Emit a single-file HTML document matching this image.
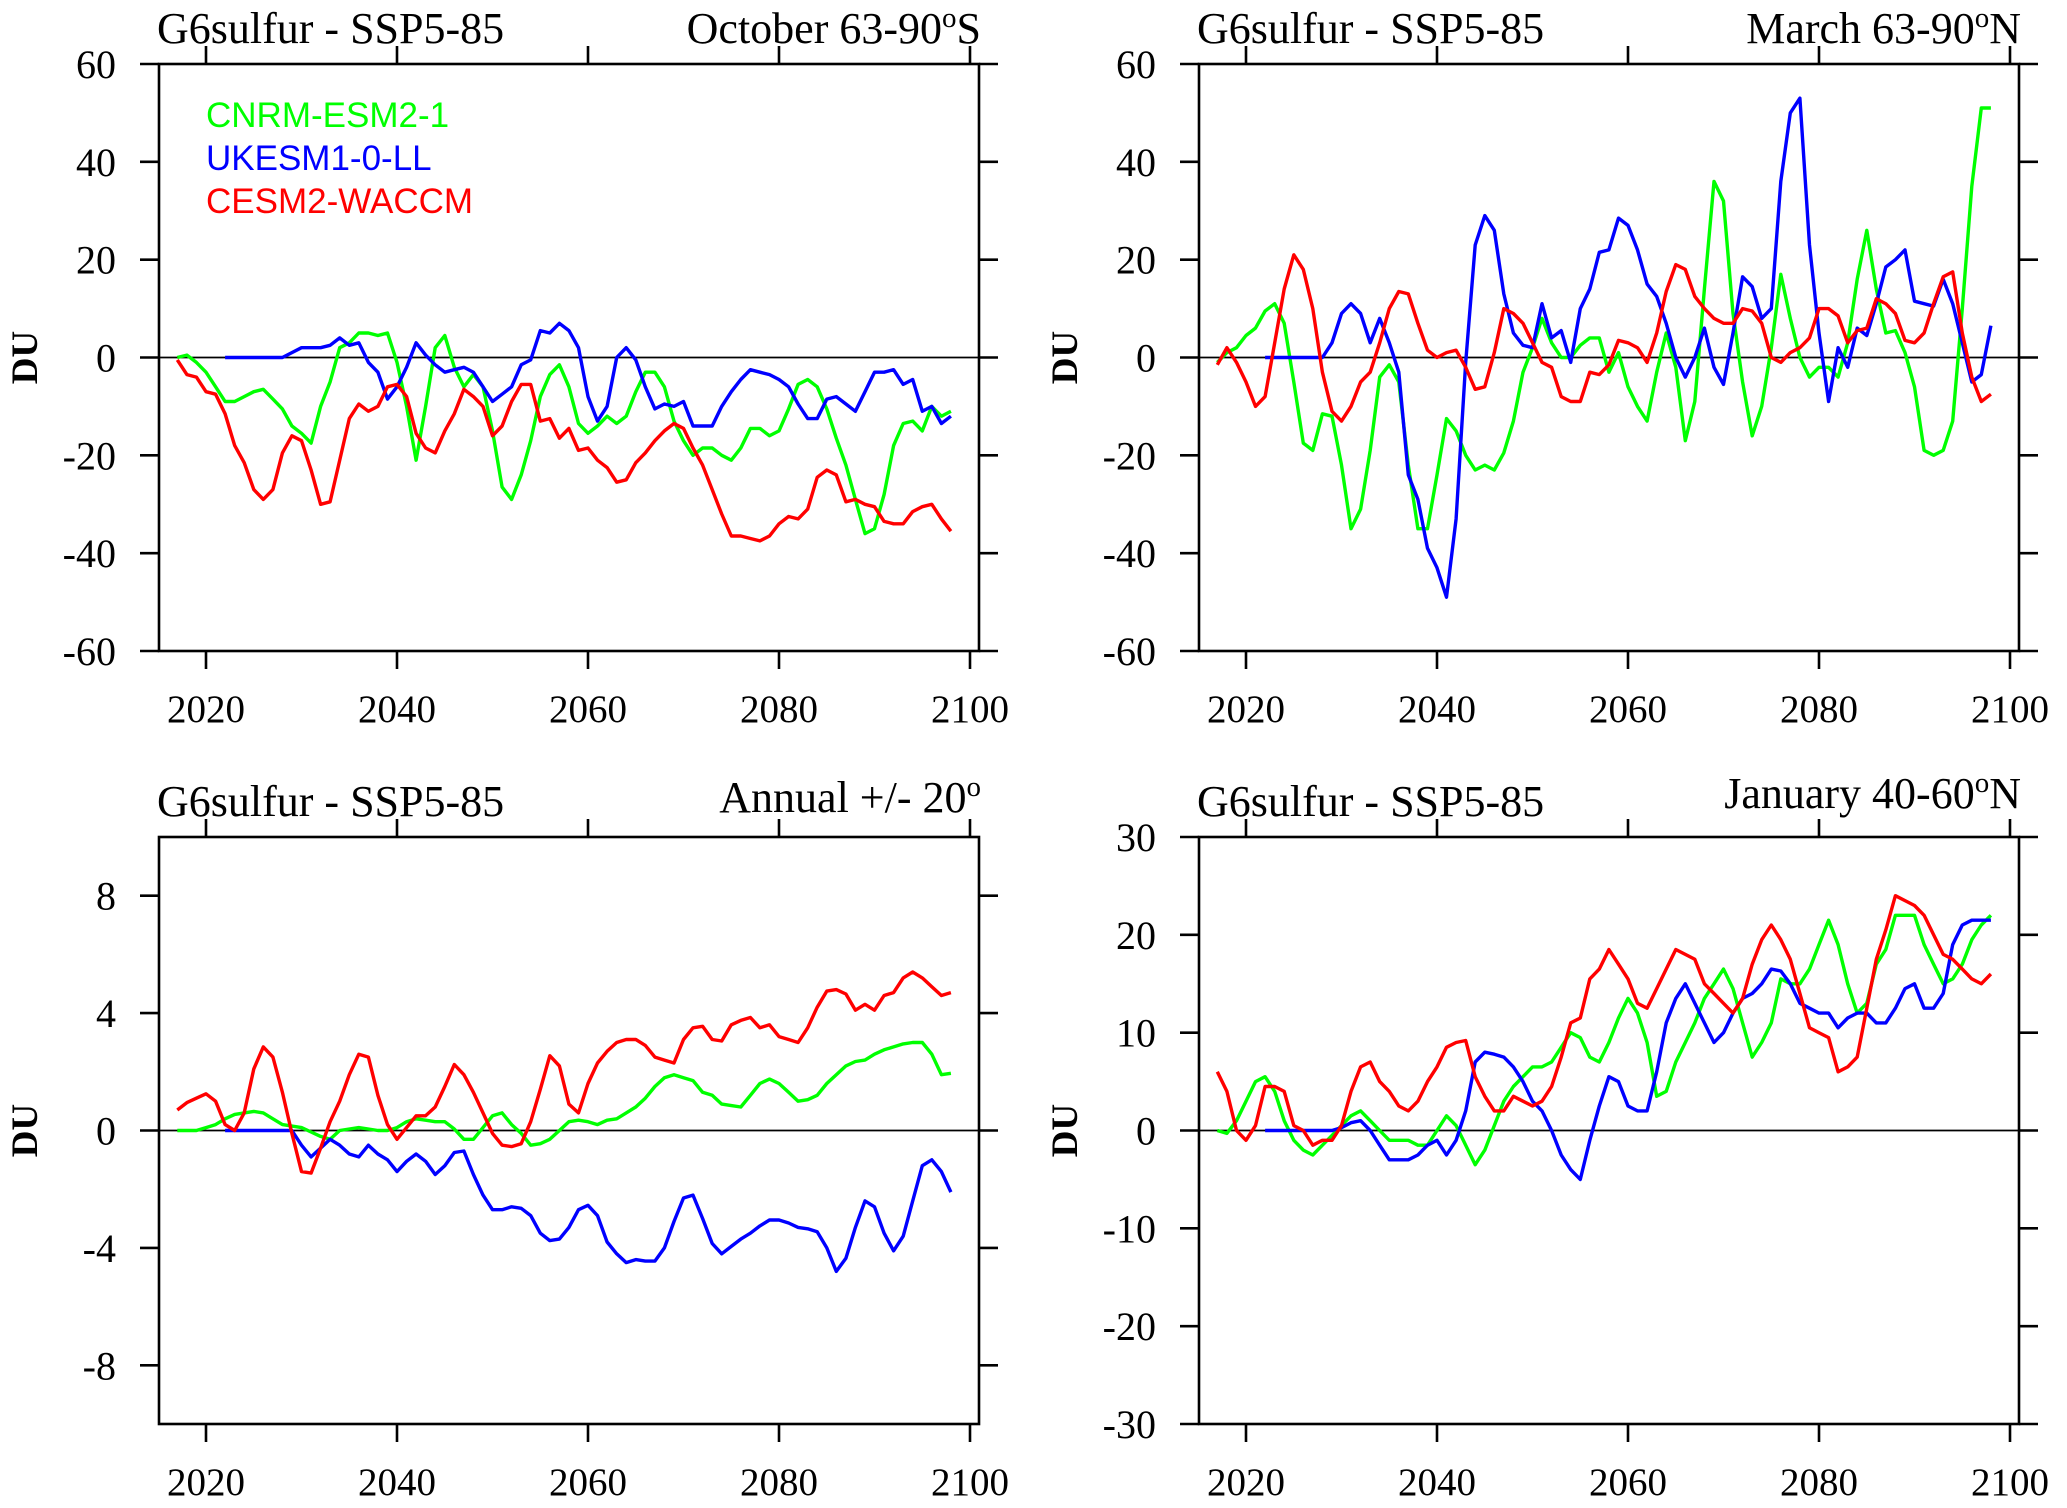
<!DOCTYPE html>
<html><head><meta charset="utf-8"><style>
html,body{margin:0;padding:0;background:#fff}
svg{display:block}
text{font-family:"Liberation Serif",serif;fill:#000}
</style></head><body>
<svg id="fig" width="2067" height="1508" viewBox="0 0 2067 1508" xmlns="http://www.w3.org/2000/svg"></svg>
<script>
const years = [];
for (let y = 2017; y <= 2098; y++) years.push(y);
const xTicks = [2020, 2040, 2060, 2080, 2100];
const xTickLabels = ["2020", "2040", "2060", "2080", "2100"];
const legendLabels = ["CNRM-ESM2-1", "UKESM1-0-LL", "CESM2-WACCM"];
const N5 = [null,null,null,null,null];

// Panel 1: October 63-90S
const p1Cnrm = [0,0.5,-1,-3,-6,-9,-9,-8,-7,-6.5,-8.5,-10.5,-14,-15.5,-17.5,-10,-5,2,3,5,5,4.5,5,-1,-10,-21,-10,2,4.5,-2,-6,-3.5,-6,-15,-26.5,-29,-24,-17,-8,-3.5,-1.5,-6,-13.5,-15.5,-14,-12,-13.5,-12,-7,-3,-3,-6,-13,-17,-20,-18.5,-18.5,-20,-21,-18.5,-14.5,-14.5,-16,-15,-10.5,-5.5,-4.5,-6,-10.5,-16.5,-22,-29,-36,-35,-28,-18,-13.5,-13,-15,-10,-12,-11];
const p1Ukesm = N5.concat([0,0,0,0,0,0,0,1,2,2,2,2.5,4,2.5,3,-1,-3,-8.5,-6,-2,3,0.5,-1.5,-3,-2.5,-2,-3,-6,-9,-7.5,-6,-1.5,-0.5,5.5,5,7,5.5,2,-8,-13,-10,0,2,-0.5,-6,-10.5,-9.5,-10,-9,-14,-14,-14,-10,-7,-4.5,-2.5,-3,-3.5,-4.5,-6,-9.5,-12.5,-12.5,-8.5,-8,-9.5,-11,-7,-3,-3,-2.5,-5.5,-4.5,-11,-10,-13.5,-12]);
const p1Cesm = [-0.5,-3.5,-4,-7,-7.5,-11.5,-18,-21.5,-27,-29,-27,-19.5,-16,-17,-23,-30,-29.5,-21,-12.5,-9.5,-11,-10,-6,-5.5,-8,-15.5,-18.5,-19.5,-15,-11.5,-6.5,-8,-10,-16,-14,-9,-5.5,-5.5,-13,-12.5,-16.5,-14.5,-19,-18.5,-21,-22.5,-25.5,-25,-21.5,-19.5,-17,-15,-13.5,-14.5,-18.5,-22,-27,-32,-36.5,-36.5,-37,-37.5,-36.5,-34,-32.5,-33,-31,-24.5,-23,-24,-29.5,-29,-30,-30.5,-33.5,-34,-34,-31.5,-30.5,-30,-33,-35.5];

// Panel 2: March 63-90N
const p2Cnrm = [-1,1,2,4.5,6,9.5,11,7,-5,-17.5,-19,-11.5,-12,-22,-35,-31,-19,-4,-1.5,-5,-22,-35,-35,-24,-12.5,-15,-20,-23,-22,-23,-19.5,-13,-3,2,8,3,0,0,2.5,4,4,-3,1,-6,-10,-13,-3,5,-2,-17,-9,14,36,32,9,-5,-16,-10,2,17,8,0,-4,-2,-2,-4,3,16,26,14,5,5.5,1,-6,-19,-20,-19,-13,10,35,51,51];
const p2Ukesm = N5.concat([0,0,0,0,0,0,0,3,9,11,9,3,8,3,-3,-24,-29,-39,-43,-49,-33,-1,23,29,26,13,5,2.5,2,11,4,5.5,-1,10,14,21.5,22,28.5,27,22,15,12.5,7,0,-4,0,6,-2,-5.5,5,16.5,14.5,8,10,36,50,53,23,5,-9,2,-2,6,4.5,11,18.5,20,22,11.5,11,10.5,16,11,3,-5,-3.5,6.5]);
const p2Cesm = [-1.5,2,-1,-5,-10,-8,3,14,21,18,10,-3,-11,-13,-10,-5,-3,3,10,13.5,13,7,1.5,0,1,1.5,-2,-6.5,-6,1,10,9,7,3,-1,-2,-8,-9,-9,-3,-3.5,-1.5,3.5,3,2,-1,5,13.5,19,18,12.5,10,8,7,7,10,9.5,7,0,-1,1,2,4,10,10,8.5,3,5.5,6,12,11,9,3.5,3,5,11,16.5,17.5,5,-4,-9,-7.5];

// Panel 3: Annual +/- 20
const p3Cnrm = [0,0,0,0.1,0.2,0.4,0.55,0.6,0.65,0.6,0.4,0.2,0.15,0.1,-0.05,-0.2,-0.3,0,0.05,0.1,0.05,0,0,0.1,0.3,0.4,0.35,0.3,0.3,0.05,-0.3,-0.3,0.1,0.5,0.6,0.2,-0.1,-0.5,-0.45,-0.3,0,0.3,0.35,0.3,0.2,0.35,0.4,0.6,0.8,1.1,1.5,1.8,1.9,1.8,1.7,1.3,1.2,0.9,0.85,0.8,1.2,1.6,1.75,1.6,1.3,1.0,1.05,1.2,1.6,1.9,2.2,2.35,2.4,2.6,2.75,2.85,2.95,3.0,3.0,2.6,1.9,1.95];
const p3Ukesm = N5.concat([0,0,0,0,0,0,0,0,-0.5,-0.9,-0.6,-0.3,-0.5,-0.8,-0.9,-0.5,-0.8,-1.0,-1.4,-1.05,-0.8,-1.05,-1.5,-1.2,-0.75,-0.7,-1.5,-2.2,-2.7,-2.7,-2.6,-2.65,-2.9,-3.5,-3.75,-3.7,-3.3,-2.7,-2.55,-2.9,-3.8,-4.2,-4.5,-4.4,-4.45,-4.45,-4.0,-3.1,-2.3,-2.2,-3.0,-3.85,-4.2,-3.95,-3.7,-3.5,-3.25,-3.05,-3.05,-3.15,-3.3,-3.35,-3.45,-4.0,-4.8,-4.35,-3.3,-2.4,-2.6,-3.5,-4.1,-3.6,-2.4,-1.2,-1.0,-1.4,-2.1]);
const p3Cesm = [0.7,0.95,1.1,1.25,1.0,0.2,0,0.6,2.1,2.85,2.5,1.3,-0.1,-1.4,-1.45,-0.6,0.3,1.0,1.9,2.6,2.5,1.2,0.2,-0.3,0.1,0.5,0.5,0.8,1.5,2.25,1.9,1.3,0.6,-0.1,-0.5,-0.55,-0.45,0.3,1.4,2.55,2.2,0.9,0.6,1.6,2.3,2.7,3.0,3.1,3.1,2.9,2.5,2.4,2.3,3.1,3.5,3.55,3.1,3.05,3.6,3.75,3.85,3.5,3.6,3.2,3.1,3.0,3.5,4.2,4.75,4.8,4.65,4.1,4.3,4.1,4.6,4.7,5.2,5.4,5.2,4.9,4.6,4.7];

// Panel 4: January 40-60N
const p4Cnrm = [0,-0.3,1,3,5,5.5,4,1,-1,-2,-2.5,-1.5,-0.5,0.5,1.5,2,1,0,-1,-1,-1,-1.5,-1.5,0,1.5,0.5,-1.5,-3.5,-2,0.5,3,4.5,5.5,6.5,6.5,7,8.5,10,9.5,7.5,7,9,11.5,13.5,12,9,3.5,4,7,9,11,13.5,15,16.5,14.5,11,7.5,9,11,15.5,15,15,16.5,19,21.5,19,15,12,13,17,18.5,22,22,22,19,17,15,15.5,17,19.5,21,22];
const p4Ukesm = N5.concat([0,0,0,0,0,0,0,0,0.3,0.8,1,0,-1.5,-3,-3,-3,-2.5,-1.5,-1,-2.5,-1,2,7,8,7.8,7.5,6.5,5,3,2,0,-2.5,-4,-5,-1,2.5,5.5,5,2.5,2,2,6,11,13.5,15,13,11,9,10,12,13.5,14,15,16.5,16.3,15,13,12.5,12,12,10.5,11.5,12,12,11,11,12.5,14.5,15,12.5,12.5,14,19,21,21.5,21.5,21.5]);
const p4Cesm = [6,4,0,-1,0.5,4.5,4.5,4,0.5,0,-1.5,-1,-1,0.5,4,6.5,7,5,4,2.5,2,3,5,6.5,8.5,9,9.2,5.5,3.5,2,2,3.5,3,2.5,3,4.5,7.5,11,11.5,15.5,16.5,18.5,17,15.5,13,12.5,14.5,16.5,18.5,18,17.5,15,14,13,12,13.5,17,19.5,21,19.5,17.5,14,10.5,10,9.5,6,6.5,7.5,12.5,17.5,20.5,24,23.5,23,22,20,18,17.5,16.5,15.5,15,16];

const p1Ticks = [-60,-40,-20,0,20,40,60];
const p3Ticks = [-8,-4,0,4,8];
const p3TickLabels = ["-8","-4","0","4","8"];
const p4Ticks = [-30,-20,-10,0,10,20,30];

const colors = ["#00ff00", "#0000ff", "#ff0000"];
const svg = document.getElementById('fig');
const NS = "http://www.w3.org/2000/svg";
function mk(tag, attrs, parent) {
  const e = document.createElementNS(NS, tag);
  for (const k in attrs) e.setAttribute(k, attrs[k]);
  parent.appendChild(e);
  return e;
}

const panels = [
  {key:'oct-sh', l:159, t:64, r:979, b:651, ymin:-60, ymax:60, ticks:p1Ticks, labels:p1Ticks.map(String), series:[p1Cnrm,p1Ukesm,p1Cesm], right:['October 63-90','o','S'], legend:true},
  {key:'mar-nh', l:1199, t:64, r:2019, b:651, ymin:-60, ymax:60, ticks:p1Ticks, labels:p1Ticks.map(String), series:[p2Cnrm,p2Ukesm,p2Cesm], right:['March 63-90','o','N']},
  {key:'annual-tropics', l:159, t:837, r:979, b:1424, ymin:-10, ymax:10, ticks:p3Ticks, labels:p3TickLabels, series:[p3Cnrm,p3Ukesm,p3Cesm], right:['Annual +/- 20','o',''], rdy:-4},
  {key:'jan-midlat', l:1199, t:837, r:2019, b:1424, ymin:-30, ymax:30, ticks:p4Ticks, labels:p4Ticks.map(String), series:[p4Cnrm,p4Ukesm,p4Cesm], right:['January 40-60','o','N'], rdy:-8}
];

panels.forEach(p => {
  const g = mk('g', {}, svg);
  
  
  const x0 = p.l + 47, pxYr = 9.55;
  const xs = v => x0 + (v - 2020) * pxYr;
  const ys = v => p.b - (v - p.ymin) / (p.ymax - p.ymin) * (p.b - p.t);
  const st = {stroke:'#000','stroke-width':2.6,fill:'none'};

  const z = mk('line', Object.assign({x1:p.l, x2:p.r, y1:ys(0), y2:ys(0)}, st, {'stroke-width':1.8}), g);
  
  

  p.series.forEach((s, i) => {
    let d = '';
    let started = false;
    s.forEach((v, j) => {
      if (v === null) return;
      d += (started ? 'L' : 'M') + xs(years[j]).toFixed(1) + ',' + ys(v).toFixed(1);
      started = true;
    });
    const path = mk('path', {d:d, stroke:colors[i], 'stroke-width':3.4, fill:'none', 'stroke-linejoin':'round'}, g);
    
    
  });

  const fr = mk('rect', Object.assign({x:p.l, y:p.t, width:p.r-p.l, height:p.b-p.t}, st), g);
  
  

  p.ticks.forEach((v, i) => {
    const y = ys(v);
    const t1 = mk('line', Object.assign({x1:p.l-19, x2:p.l, y1:y, y2:y}, st), g);
    
    
    const t2 = mk('line', Object.assign({x1:p.r, x2:p.r+19, y1:y, y2:y}, st), g);
    
    
    const tl = mk('text', {x:p.l-43, y:y+14, 'text-anchor':'end', 'font-size':40}, g);
    tl.textContent = p.labels[i];
    
    
  });
  xTicks.forEach((v, i) => {
    const x = xs(v);
    const a = mk('line', Object.assign({x1:x, x2:x, y1:p.b, y2:p.b+18}, st), g);
    
    
    const b = mk('line', Object.assign({x1:x, x2:x, y1:p.t-18, y2:p.t}, st), g);
    
    
    const tl = mk('text', {x:x, y:p.b+71, 'text-anchor':'middle', 'font-size':39}, g);
    tl.textContent = xTickLabels[i];
    
    
  });

  const cy = (p.t + p.b) / 2;
  const dx = p.l - 122;
  const du = mk('text', {x:dx, y:cy, 'text-anchor':'middle', 'font-size':37, 'font-weight':'bold', transform:'rotate(-90 '+dx+' '+cy+')'}, g);
  du.textContent = 'DU';
  
  

  const tt = mk('text', {x:p.l-2, y:p.t-21, 'font-size':44}, g);
  tt.textContent = 'G6sulfur - SSP5-85';
  
  
  const rt = mk('text', {x:p.r+2, y:p.t-21+(p.rdy||0), 'text-anchor':'end', 'font-size':44}, g);
  
  
  const s1 = mk('tspan', {}, rt); s1.textContent = p.right[0];
  const s2 = mk('tspan', {dy:-16, 'font-size':29}, rt); s2.textContent = p.right[1];
  if (p.right[2]) { const s3 = mk('tspan', {dy:16}, rt); s3.textContent = p.right[2]; }

  if (p.legend) {
    legendLabels.forEach((lab, i) => {
      const t = mk('text', {x:206, y:127 + i*43, 'font-size':35, style:'font-family:"Liberation Sans",sans-serif'}, g);
      t.style.fill = colors[i];
      t.textContent = lab;
      
      
    });
  }
});
</script>
</body></html>
